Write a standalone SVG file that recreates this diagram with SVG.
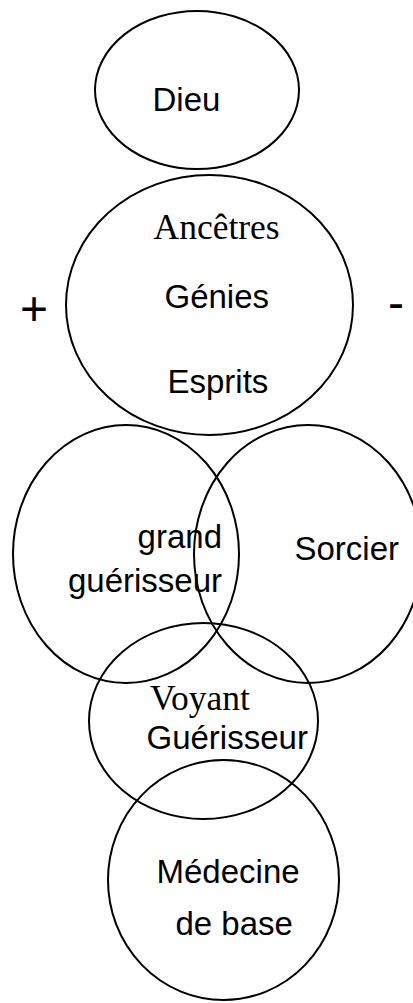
<svg xmlns="http://www.w3.org/2000/svg" width="413" height="1003" viewBox="0 0 413 1003">
<style>
.c{fill:none;stroke:#000;stroke-width:2}
.s{font-family:"Liberation Sans",Arial,sans-serif;font-size:33px;fill:#000}
.t{font-family:"Liberation Serif","Times New Roman",serif;font-size:35.5px;fill:#000}
.b{font-family:"Liberation Sans",Arial,sans-serif;font-size:48px;fill:#000}
</style>
<rect width="413" height="1003" fill="#fff"/>
<g id="dieu">
<ellipse class="c" cx="197" cy="90" rx="102" ry="79"/>
<text class="s" x="152.5" y="111">Dieu</text>
</g>
<g id="ancetres">
<ellipse class="c" cx="209.5" cy="305" rx="143.5" ry="130"/>
<text class="t" x="153.5" y="239">Ancêtres</text>
<text class="s" x="164.5" y="308">Génies</text>
<text class="s" x="167.5" y="393">Esprits</text>
</g>
<g id="plus">
<text class="b" x="20" y="325">+</text>
</g>
<g id="minus">
<text class="b" x="388" y="319">-</text>
</g>
<g id="grand-guerisseur">
<ellipse class="c" cx="126" cy="554" rx="113" ry="129"/>
<text class="s" x="222" y="548" text-anchor="end">grand</text>
<text class="s" x="222" y="592" text-anchor="end">guérisseur</text>
</g>
<g id="sorcier">
<ellipse class="c" cx="308" cy="554" rx="114" ry="129"/>
<text class="s" x="294.5" y="560">Sorcier</text>
</g>
<g id="voyant">
<ellipse class="c" cx="203.5" cy="721" rx="114.5" ry="98"/>
<text class="t" x="150" y="710">Voyant</text>
<text class="s" x="146.5" y="749">Guérisseur</text>
</g>
<g id="medecine">
<ellipse class="c" cx="223.5" cy="880" rx="115.5" ry="120"/>
<text class="s" x="156.5" y="883">Médecine</text>
<text class="s" x="175.5" y="935">de base</text>
</g>
</svg>
